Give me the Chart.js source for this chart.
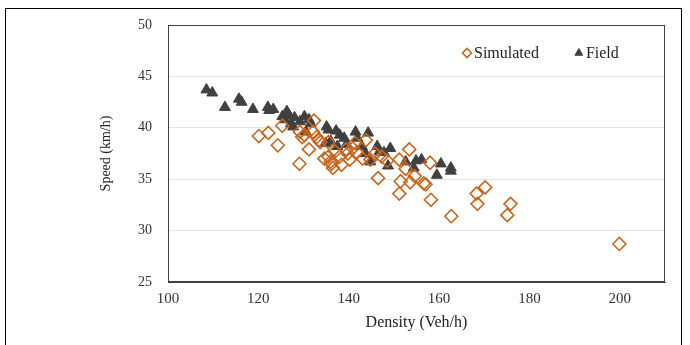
<!DOCTYPE html>
<html>
<head>
<meta charset="utf-8">
<script src="https://cdn.jsdelivr.net/npm/chart.js@4.4.1/dist/chart.umd.min.js"></script>
<style>
  html, body { margin: 0; padding: 0; background: #fff; }
  #wrap { position: relative; width: 690px; height: 345px; overflow: hidden; }
  #frame { position: absolute; left: 5px; top: 8px; width: 677px; height: 360px; border: 1px solid #000; box-sizing: border-box; pointer-events: none; }
</style>
</head>
<body>
<div id="wrap">
  <canvas id="chart" width="690" height="345"></canvas>
  <div id="frame"></div>
</div>
<script>
const simDensity = [120.1, 122.2, 124.3, 125.3, 129.1, 132.3, 130.2, 129.2, 129.7, 131.2,
  132.1, 132.9, 133.4, 133.7, 134.6, 135.5, 136.0, 136.5, 136.2, 138.0,
  138.4, 139.4, 140.2, 140.9, 141.4, 143.8, 143.1, 144.8, 146.5, 145.8,
  147.3, 148.5, 151.2, 152.6, 151.5, 151.2, 153.4, 153.6, 154.6, 156.6,
  157.0, 158.0, 158.2, 162.7, 168.3, 168.5, 170.2, 175.1, 175.8, 199.9,
  135.5, 137.0, 139.8, 141.8]
const simSpeed = [39.2, 39.5, 38.3, 40.2, 36.5, 40.7, 39.3, 39.6, 39.1, 37.9,
  39.6, 39.1, 38.8, 38.6, 37.0, 37.2, 36.7, 36.1, 36.5, 37.2,
  36.4, 37.9, 36.9, 38.0, 38.5, 38.8, 37.0, 36.9, 35.1, 37.5,
  37.2, 36.8, 36.9, 36.0, 34.8, 33.6, 37.9, 34.7, 35.3, 34.6,
  34.5, 36.6, 33.0, 31.4, 33.6, 32.6, 34.2, 31.5, 32.6, 28.7,
  38.6, 37.7, 37.5, 37.6]

const fieldDensity = [108.5, 109.8, 112.6, 115.7, 116.3, 118.8, 122.1, 122.4, 123.3, 126.3,
  125.3, 125.8, 126.8, 127.2, 128.0, 127.7, 129.2, 130.2, 130.5, 131.2,
  131.6, 135.1, 135.5, 134.9, 136.0, 137.2, 137.5, 138.0, 139.0, 139.5,
  141.5, 141.9, 142.9, 143.7, 144.3, 144.8, 146.3, 146.8, 147.8, 149.2,
  148.7, 152.6, 154.4, 154.9, 156.1, 159.5, 160.4, 162.6, 162.6]
const fieldSpeed = [43.7, 43.4, 42.0, 42.8, 42.5, 41.8, 42.0, 41.7, 41.8, 41.6,
  41.1, 40.8, 41.2, 40.4, 41.0, 40.1, 40.6, 41.1, 39.6, 40.8,
  40.4, 40.1, 39.8, 38.5, 38.7, 39.7, 38.2, 39.3, 39.0, 38.4,
  39.6, 39.0, 38.2, 37.5, 39.5, 36.7, 38.2, 37.7, 37.6, 38.0,
  36.3, 36.7, 36.1, 36.8, 36.9, 35.4, 36.5, 36.1, 35.8]

const toPoints = (xs, ys) => xs.map((x, i) => ({ x: x, y: ys[i] }))

Chart.defaults.font.family = "'Liberation Serif', 'Times New Roman', serif"
Chart.defaults.font.size = 15
Chart.defaults.color = '#333333'

// box around the plot area
const plotFrame = {
  id: 'plotFrame',
  afterDatasetsDraw(chart) {
    const { ctx, chartArea: a } = chart
    ctx.save()
    ctx.strokeStyle = '#404040'
    ctx.lineWidth = 1
    ctx.strokeRect(a.left + 0.5, a.top + 0.5, a.right - a.left - 1, a.bottom - a.top - 1)
    ctx.restore()
  }
}

// legend inside the plot, top right, markers taken from the datasets
const innerLegend = {
  id: 'innerLegend',
  afterDraw(chart) {
    const { ctx, chartArea: a } = chart
    const y = a.top + 28
    let x = a.left + 299
    ctx.save()
    ctx.font = "16px 'Liberation Serif', 'Times New Roman', serif"
    ctx.textBaseline = 'middle'
    chart.data.datasets.forEach((ds) => {
      ctx.strokeStyle = ds.borderColor
      ctx.fillStyle = ds.backgroundColor
      ctx.lineWidth = ds.borderWidth
      Chart.helpers.drawPoint(ctx, { pointStyle: ds.pointStyle, radius: 4.5, rotation: 0, borderWidth: ds.borderWidth }, x, y)
      ctx.fillStyle = '#222'
      ctx.fillText(ds.label, x + 7, y + 1)
      x += ctx.measureText(ds.label).width + 47
    })
    ctx.restore()
  }
}

new Chart(document.getElementById('chart'), {
  type: 'scatter',
  data: {
    datasets: [{
      label: 'Simulated',
      data: toPoints(simDensity, simSpeed),
      pointStyle: 'rectRot',
      pointRadius: 6.5,
      pointHoverRadius: 6.5,
      borderColor: '#C8661F',
      backgroundColor: 'rgba(255,255,255,0)',
      borderWidth: 1.6
    }, {
      label: 'Field',
      data: toPoints(fieldDensity, fieldSpeed),
      pointStyle: 'triangle',
      pointRadius: 6.3,
      pointHoverRadius: 6.3,
      borderColor: '#404040',
      backgroundColor: '#404040',
      borderWidth: 1
    }]
  },
  options: {
    responsive: false,
    animation: false,
    layout: { padding: { left: 0, top: 25, right: 25, bottom: 0 } },
    plugins: {
      tooltip: { enabled: false },
      legend: { display: false }
    },
    scales: {
      x: {
        type: 'linear',
        min: 100,
        max: 210,
        afterFit: (scale) => { scale.height = 63 },
        ticks: { stepSize: 20, includeBounds: false, padding: 8, color: '#333' },
        grid: { display: false, drawTicks: false },
        border: { display: true, color: '#404040' },
        title: { display: true, text: 'Density (Veh/h)', color: '#222', font: { size: 16 }, padding: { top: 0, bottom: 13 } }
      },
      y: {
        min: 25,
        max: 50,
        afterFit: (scale) => { scale.width = 168 },
        ticks: { stepSize: 5, padding: 16, color: '#333', font: { size: 14 } },
        grid: { color: '#e4e4e4', drawTicks: false },
        border: { display: true, color: '#404040' },
        title: { display: true, text: 'Speed (km/h)', color: '#222', font: { size: 14 }, padding: { top: 98, bottom: 0 } }
      }
    }
  },
  plugins: [plotFrame, innerLegend]
})
</script>
</body>
</html>
